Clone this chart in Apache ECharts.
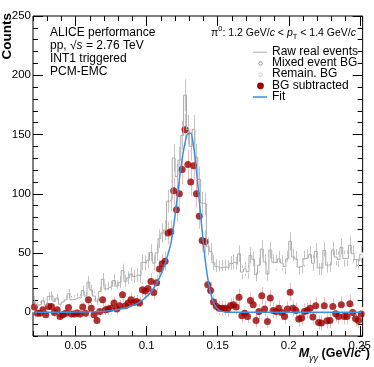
<!DOCTYPE html>
<html><head><meta charset="utf-8">
<script src="https://cdn.jsdelivr.net/npm/echarts@6/dist/echarts.min.js"></script>
<style>html,body{margin:0;padding:0;background:#fff}#c{width:374px;height:367px}</style>
</head><body><div id="c"></div>
<script>
// Histogram binning (GeV/c^2)
const binLow = 0.02, binWidth = 0.002;

// Raw real events (counts per bin)
const rawCounts = [10.6,6.1,6.5,9.7,6.0,13.4,13.9,9.2,12.0,6.8,
8.7,10.5,15.7,10.6,11.1,12.5,12.0,18.3,13.7,25.4,
18.8,13.7,9.4,17.5,27.8,19.7,20.8,22.0,26.8,22.1,
25.3,35.1,26.2,29.0,32.2,30.3,31.5,30.6,42.2,41.6,
44.0,50.4,41.5,50.2,62.1,67.0,69.4,93.8,95.2,130.2,
114.6,128.4,149.2,183.2,154.2,140.0,154.1,130.8,112.2,92.2,
91.5,55.6,51.2,41.8,38.6,37.5,37.9,38.2,37.8,41.0,
42.2,40.6,49.4,34.0,36.6,34.2,48.0,44.7,31.8,39.8,
53.4,42.5,32.3,52.5,42.3,41.9,45.0,41.6,38.7,45.2,
59.8,46.7,45.0,38.1,39.3,45.2,46.3,48.6,41.4,51.3,
37.5,37.3,52.2,39.8,40.4,52.5,46.6,44.7,54.8,45.3,
45.6,56.5,49.4,44.4,43.3,48.9];

// Mixed event background
const mixedBG = [4.0,4.6,5.0,5.4,5.9,6.3,6.8,7.2,7.7,8.1,
8.6,9.0,9.5,9.9,10.4,10.8,11.3,11.7,12.2,12.6,
13.1,13.6,14.1,14.6,15.0,15.4,15.9,16.3,16.8,17.2,
17.6,18.1,18.5,19.0,19.4,19.8,20.2,20.6,21.0,21.4,
21.8,22.2,22.6,23.0,23.4,23.8,24.2,24.6,25.0,25.4,
25.8,26.2,26.6,27.0,27.4,27.8,28.2,28.6,29.0,29.4,
29.8,30.2,30.6,31.0,31.4,31.8,32.2,32.5,32.9,33.3,
33.7,34.0,34.4,34.8,35.1,35.5,35.8,36.2,36.5,36.9,
37.2,37.6,37.9,38.3,38.6,39.0,39.3,39.6,40.0,40.3,
40.6,41.0,41.3,41.6,42.0,42.3,42.6,42.9,43.2,43.6,
43.9,44.2,44.5,44.8,45.1,45.4,45.7,46.0,46.3,46.6,
46.9,47.1,47.4,47.7,48.0,48.2];

// Remaining background
const remainBG = [2.2,2.2,2.2,2.2,2.2,2.2,2.2,2.2,2.2,2.2,
2.2,2.2,2.2,2.2,2.2,2.2,2.2,2.2,2.2,2.2,
2.2,2.2,2.2,2.2,2.2,2.2,2.2,2.2,2.2,2.2,
2.2,2.2,2.2,2.2,2.2,2.2,2.2,2.2,2.2,2.2,
2.2,2.2,2.2,2.2,2.2,2.2,2.2,2.2,2.2,2.2,
2.2,2.2,2.2,2.2,2.2,2.2,2.2,2.2,2.2,2.2,
2.2,2.2,2.2,2.2,2.2,2.2,2.2,2.2,2.2,2.2,
2.2,2.2,2.2,2.2,2.2,2.2,2.2,2.2,2.2,2.2,
2.2,2.2,2.2,2.2,2.2,2.2,2.2,2.2,2.2,2.2,
2.2,2.2,2.2,2.2,2.2,2.2,2.2,2.2,2.2,2.2,
2.2,2.2,2.2,2.2,2.2,2.2,2.2,2.2,2.2,2.2,
2.2,2.2,2.2,2.2,2.2,2.2];

// Background-subtracted signal
const bgSubtracted = [4.4,-0.7,-0.7,2.1,-2.1,4.9,4.9,-0.2,2.1,-3.5,
-2.1,-0.7,4.0,-1.5,-1.5,-0.5,-1.5,4.4,-0.7,10.6,
3.5,-2.1,-6.9,0.7,10.6,2.1,2.7,3.5,7.8,2.7,
5.5,14.8,5.5,7.8,10.6,8.3,9.1,7.8,19.0,18.0,
20.0,26.0,16.7,25.0,36.5,41.0,43.0,67.0,68.0,102.6,
86.6,100.0,120.4,154.0,124.6,110.0,123.7,100.0,81.0,60.6,
59.5,23.2,18.4,8.6,5.0,3.5,3.5,3.5,2.7,5.5,
6.3,4.4,12.8,-3.0,-0.7,-3.5,10.0,6.3,-6.9,0.7,
14.0,2.7,-7.8,12.0,1.5,0.7,3.5,-0.2,-3.5,2.7,
17.0,3.5,1.5,-5.7,-4.9,0.7,1.5,3.5,-4.0,5.5,
-8.6,-9.1,5.5,-7.2,-6.9,4.9,-1.3,-3.5,6.3,-3.5,
-3.5,7.2,-0.2,-5.5,-6.9,-1.5];

// Fit curve evaluated at bin centres
const fitValues = [0.1,0.1,0.1,0.1,0.1,0.1,0.1,0.1,0.1,0.1,
0.1,0.1,0.1,0.1,0.15,0.2,0.2,0.25,0.3,0.4,
0.45,0.5,0.6,0.75,0.9,1.05,1.25,1.5,1.8,2.1,
2.5,3.0,3.6,4.3,5.1,6.1,7.2,8.6,10.2,12.2,
14.5,17.2,20.5,24.4,29.1,34.6,41.2,49,58,73,
92,112,129.5,143,150.7,151,140,120,95,69,
46,28.5,16.3,8.5,4.1,1.8,0.8,0.3,0.1,0.05,
0,0,0,0,0,0,0,0,0,0,
0,0,0,0,0,0,0,0,0,0,
0,0,0,0,0,0,0,0,0,0,
0,0,0,0,0,0,0,0,0,0,
0,0,0,0,0,0];

const xMajorTicks = [0.05, 0.1, 0.15, 0.2, 0.25];
const xTickLabels = ['0.05', '0.1', '0.15', '0.2', '0.25'];
const yMajorTicks = [0, 50, 100, 150, 200, 250];
const yTickLabels = ['0', '50', '100', '150', '200', '250'];

const legendLabels = ['Raw real events', 'Mixed event BG', 'Remain. BG', 'BG subtracted', 'Fit'];
const infoLines = ['ALICE performance', 'pp, \u221As = 2.76 TeV', 'INT1 triggered', 'PCM-EMC'];

const FONT = '"Liberation Sans", Arial, Helvetica, sans-serif';
const X_MIN = 0.02, X_MAX = 0.252, Y_MIN = -20, Y_MAX = 250;

const centers = rawCounts.map((_, i) => +(binLow + binWidth * (i + 0.5)).toFixed(4));
const pairs = arr => arr.map((v, i) => [centers[i], v]);
// Poisson statistical uncertainties
const rawErr = rawCounts.map(v => Math.sqrt(Math.max(v, 1)));
const errData = (arr, errs) => arr.map((v, i) => [centers[i], v - errs[i], v + errs[i]]);

function errRender(color) {
  return function (params, api) {
    const p1 = api.coord([api.value(0), api.value(1)]);
    const p2 = api.coord([api.value(0), api.value(2)]);
    return { type: 'line', shape: { x1: Math.round(p1[0]) + 0.5, y1: p1[1], x2: Math.round(p2[0]) + 0.5, y2: p2[1] },
      style: { stroke: color, lineWidth: 1 } };
  };
}

function xAxisDef(pos, major) {
  return {
    type: 'value', min: X_MIN, max: X_MAX, position: pos,
    interval: major ? undefined : 0.01,
    axisLine: { show: false, onZero: false },
    axisTick: major ? { inside: true, length: 10, customValues: xMajorTicks, lineStyle: { color: '#000' } }
                    : { inside: true, length: 5, lineStyle: { color: '#000' } },
    axisLabel: (major && pos === 'bottom') ? {
      customValues: xMajorTicks, margin: 4, color: '#000', fontSize: 11.5, fontFamily: FONT,
      formatter: v => { const k = xMajorTicks.findIndex(t => Math.abs(t - v) < 1e-6); return k >= 0 ? xTickLabels[k] : ''; }
    } : { show: false },
    splitLine: { show: false }
  };
}
function yAxisDef(pos, major) {
  return {
    type: 'value', min: Y_MIN, max: Y_MAX, position: pos,
    interval: major ? undefined : 10,
    axisLine: { show: false, onZero: false },
    axisTick: major ? { inside: true, length: 10, customValues: yMajorTicks, lineStyle: { color: '#000' } }
                    : { inside: true, length: 5, lineStyle: { color: '#000' } },
    axisLabel: (major && pos === 'left') ? {
      customValues: yMajorTicks, margin: 2, color: '#000', fontSize: 11.5, fontFamily: FONT,
      formatter: v => { const k = yMajorTicks.indexOf(v); return k >= 0 ? yTickLabels[k] : ''; }
    } : { show: false },
    splitLine: { show: false }
  };
}

const chart = echarts.init(document.getElementById('c'), null, { renderer: 'canvas', width: 374, height: 367 });

const legendX = 272, legendY0 = 51.7, legendDy = 11.2, markX = 260;
const legendGraphics = [];
legendLabels.forEach((t, k) => {
  legendGraphics.push({ type: 'text', x: legendX, y: legendY0 + k * legendDy,
    style: { text: t, font: '12px ' + FONT, fill: '#000', textVerticalAlign: 'middle' } });
});
legendGraphics.push({ type: 'line', shape: { x1: 253, y1: legendY0 + 0.5, x2: 267, y2: legendY0 + 0.5 }, style: { stroke: '#aaa', lineWidth: 1 } });
legendGraphics.push({ type: 'circle', shape: { cx: markX + 0.5, cy: legendY0 + legendDy + 0.5, r: 1.8 }, style: { fill: '#fff', stroke: '#808080', lineWidth: 0.8 } });
legendGraphics.push({ type: 'circle', shape: { cx: markX + 0.5, cy: legendY0 + 2 * legendDy + 0.5, r: 1.8 }, style: { fill: '#fff', stroke: '#c8c8c8', lineWidth: 0.8 } });
legendGraphics.push({ type: 'circle', shape: { cx: markX + 0.5, cy: legendY0 + 3 * legendDy + 0.5, r: 3.4 }, style: { fill: '#9c0000' } });
legendGraphics.push({ type: 'line', shape: { x1: 253, y1: legendY0 + 4 * legendDy + 0.5, x2: 267, y2: legendY0 + 4 * legendDy + 0.5 }, style: { stroke: '#3d8fe0', lineWidth: 1.5 } });

const infoGraphics = [
  { type: 'text', x: 50, y: 32.5, style: { text: infoLines[0], font: '12px ' + FONT, fill: '#000', textVerticalAlign: 'middle' } },
  { type: 'text', x: 50, y: 45.5, style: { text: '{n|pp, \u221A}{i|s}{n| = 2.76 TeV}', fill: '#000', textVerticalAlign: 'middle',
      rich: { n: { fontSize: 12, fontFamily: FONT }, i: { fontSize: 12, fontFamily: FONT, fontStyle: 'italic' } } } },
  { type: 'text', x: 50, y: 58.5, style: { text: infoLines[2], font: '12px ' + FONT, fill: '#000', textVerticalAlign: 'middle' } },
  { type: 'text', x: 50, y: 71.5, style: { text: infoLines[3], font: '12px ' + FONT, fill: '#000', textVerticalAlign: 'middle' } },
  { type: 'text', x: 356, y: 33, style: {
      text: '{n|\u03C0}{sup|0}{n|: 1.2 GeV/}{i|c}{n| < }{i|p}{sub|T}{n| < 1.4 GeV/}{i|c}',
      fill: '#000', textAlign: 'right', textVerticalAlign: 'middle',
      rich: {
        n: { fontSize: 10.5, fontFamily: FONT, lineHeight: 16, verticalAlign: 'middle' },
        i: { fontSize: 10.5, fontFamily: FONT, fontStyle: 'italic', lineHeight: 16, verticalAlign: 'middle' },
        sup: { fontSize: 7.5, fontFamily: FONT, lineHeight: 9, verticalAlign: 'top' },
        sub: { fontSize: 7.5, fontFamily: FONT, lineHeight: 9, verticalAlign: 'bottom' }
      } } },
  { type: 'text', x: 7, y: 13, rotation: Math.PI / 2,
    style: { text: 'Counts', font: 'bold 13.5px ' + FONT, fill: '#000', textAlign: 'right', textVerticalAlign: 'middle' } },
  { type: 'text', x: 370, y: 353.5, style: {
      text: '{m|M}{sub|\u03B3\u03B3}{b| (GeV/}{bi|c}{sup|2}{b|)}',
      fill: '#000', textAlign: 'right', textVerticalAlign: 'middle',
      rich: {
        m: { fontSize: 12.5, fontFamily: FONT, fontWeight: 'bold', fontStyle: 'italic', lineHeight: 18, verticalAlign: 'middle' },
        b: { fontSize: 12.5, fontFamily: FONT, fontWeight: 'bold', lineHeight: 18, verticalAlign: 'middle' },
        bi: { fontSize: 12.5, fontFamily: FONT, fontWeight: 'bold', fontStyle: 'italic', lineHeight: 18, verticalAlign: 'middle' },
        sub: { fontSize: 9, fontFamily: FONT, fontStyle: 'italic', lineHeight: 11, verticalAlign: 'bottom' },
        sup: { fontSize: 8.5, fontFamily: FONT, fontWeight: 'bold', lineHeight: 11, verticalAlign: 'top' }
      } } }
];

chart.setOption({
  animation: false,
  backgroundColor: '#fff',
  grid: { left: 33, right: 6, top: 16, bottom: 31, show: true, borderColor: '#000', borderWidth: 1, backgroundColor: 'transparent' },
  xAxis: [xAxisDef('bottom', false), xAxisDef('bottom', true), xAxisDef('top', false), xAxisDef('top', true)],
  yAxis: [yAxisDef('left', false), yAxisDef('left', true), yAxisDef('right', false), yAxisDef('right', true)],
  graphic: infoGraphics.concat(legendGraphics),
  series: [
    { name: 'Raw real events err', type: 'custom', xAxisIndex: 0, yAxisIndex: 0, renderItem: errRender('#c4c4c4'),
      data: errData(rawCounts, rawErr), clip: true, silent: true },
    { name: 'Raw real events', type: 'line', xAxisIndex: 0, yAxisIndex: 0, step: 'middle', symbol: 'none',
      lineStyle: { color: '#aaaaaa', width: 1 }, data: pairs(rawCounts), silent: true },
    { name: 'Mixed event BG', type: 'scatter', xAxisIndex: 0, yAxisIndex: 0, symbol: 'emptyCircle', symbolSize: 4.2,
      itemStyle: { color: '#fff', borderColor: '#7a7a7a', borderWidth: 0.8 }, data: pairs(mixedBG), silent: true },
    { name: 'Remain. BG', type: 'scatter', xAxisIndex: 0, yAxisIndex: 0, symbol: 'emptyCircle', symbolSize: 4.2,
      itemStyle: { color: '#fff', borderColor: '#c8c8c8', borderWidth: 0.8 }, data: pairs(remainBG), silent: true },
    { name: 'BG subtracted err', type: 'custom', xAxisIndex: 0, yAxisIndex: 0, renderItem: errRender('rgba(225,120,120,0.5)'),
      data: errData(bgSubtracted, rawErr), clip: true, silent: true },
    { name: 'Fit', type: 'line', xAxisIndex: 0, yAxisIndex: 0, symbol: 'none', smooth: 0.3,
      lineStyle: { color: '#3d8fe0', width: 1.5 }, data: pairs(fitValues), silent: true },
    { name: 'BG subtracted', type: 'scatter', xAxisIndex: 0, yAxisIndex: 0, symbol: 'circle', symbolSize: 7,
      itemStyle: { color: '#9c0000' }, data: pairs(bgSubtracted), silent: true }
  ]
});
</script></body></html>
